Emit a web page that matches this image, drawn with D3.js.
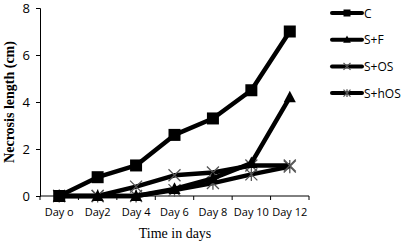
<!DOCTYPE html>
<html><head><meta charset="utf-8">
<script src="https://cdn.jsdelivr.net/npm/d3@7"></script>
<style>body{margin:0;background:#fff}svg{display:block}</style>
</head><body>
<svg id="c" width="401" height="245"></svg>
<script>
const categories = ["Day o","Day2","Day 4","Day 6","Day 8","Day 10","Day 12"];
const seriesNames = ["C","S+F","S+OS","S+hOS"];
const valuesC    = [0, 0.8, 1.3, 2.6, 3.3, 4.5, 7.0];
const valuesSF   = [0, 0, 0, 0.3, 0.75, 1.4, 4.2];
const valuesSOS  = [0, 0, 0.4, 0.88, 1.0, 1.3, 1.3];
const valuesShOS = [0, 0, 0, 0.25, 0.55, 0.92, 1.25];
const yTicks = [0, 2, 4, 6, 8];

(function(){
const svg = d3.select("#c");
const mLeft = 40, mRight = 309, mTop = 8, mBottom = 196;
const x = d3.scaleBand().domain(categories).range([mLeft, mRight]);
const y = d3.scaleLinear().domain([0, 8]).range([mBottom, mTop]);
const cx = d => x(d) + x.bandwidth() / 2;

const yAxis = svg.append("g").attr("transform", `translate(${mLeft},0)`)
  .call(d3.axisLeft(y).tickValues(yTicks).tickSize(4).tickPadding(6));
yAxis.select(".domain").attr("stroke", "#000");
yAxis.selectAll("text").attr("font-family", "Open Sans, Liberation Sans, sans-serif").attr("font-size", 13).attr("fill", "#000");

const xAxis = svg.append("g").attr("transform", `translate(0,${mBottom})`);
xAxis.append("line").attr("x1", mLeft).attr("x2", mRight).attr("stroke", "#000");
const bounds = categories.map(c => x(c)).concat([mRight]);
xAxis.selectAll("line.t").data(bounds).enter().append("line").attr("class", "t")
  .attr("x1", d => d).attr("x2", d => d).attr("y1", 0).attr("y2", 4).attr("stroke", "#000");
xAxis.selectAll("text").data(categories).enter().append("text")
  .attr("x", d => cx(d)).attr("y", 20).attr("text-anchor", "middle")
  .attr("font-family", "Open Sans, Liberation Sans, sans-serif").attr("font-size", 11).text(d => d);

svg.append("text").attr("x", 175).attr("y", 238).attr("text-anchor", "middle")
  .attr("font-family", "Liberation Serif, serif").attr("font-size", 14).text("Time in days");
svg.append("text").attr("transform", "translate(14,102) rotate(-90)").attr("text-anchor", "middle")
  .attr("font-family", "Liberation Serif, serif").attr("font-weight", "bold").attr("font-size", 14)
  .text("Necrosis length (cm)");

const series = [
  {name: seriesNames[0], values: valuesC, marker: "square"},
  {name: seriesNames[1], values: valuesSF, marker: "triangle"},
  {name: seriesNames[2], values: valuesSOS, marker: "x"},
  {name: seriesNames[3], values: valuesShOS, marker: "star"}
];

function drawMarker(g, type, px, py, s) {
  if (type === "square") {
    g.append("rect").attr("x", px - s/2).attr("y", py - s/2).attr("width", s).attr("height", s).attr("fill", "#000");
  } else if (type === "triangle") {
    g.append("path").attr("d", `M${px},${py - s*0.6}L${px + s*0.55},${py + s*0.45}L${px - s*0.55},${py + s*0.45}Z`).attr("fill", "#000");
  } else if (type === "x") {
    const r = s/2;
    g.append("path").attr("d", `M${px-r},${py-r}L${px+r},${py+r}M${px-r},${py+r}L${px+r},${py-r}`)
      .attr("stroke", "#555").attr("stroke-width", 1.3);
  } else {
    const r = s/2;
    g.append("path").attr("d", `M${px-r},${py-r}L${px+r},${py+r}M${px-r},${py+r}L${px+r},${py-r}M${px},${py-r*1.1}L${px},${py+r*1.1}`)
      .attr("stroke", "#555").attr("stroke-width", 1.3);
  }
}

const line = d3.line().x((d, i) => cx(categories[i])).y(d => y(d));
series.slice().reverse().forEach(s => {
  const g = svg.append("g");
  g.append("path").datum(s.values).attr("d", line).attr("fill", "none")
    .attr("stroke", "#000").attr("stroke-width", 4.5).attr("stroke-linejoin", "round");
  s.values.forEach((v, i) => {
    const size = s.marker === "square" ? 12 : (s.marker === "triangle" ? 11 : 12);
    drawMarker(g, s.marker, cx(categories[i]), y(v), size);
  });
});

const lg = svg.append("g");
series.forEach((s, i) => {
  const ly = 13 + i * 26.7;
  lg.append("line").attr("x1", 332).attr("x2", 362).attr("y1", ly).attr("y2", ly)
    .attr("stroke", "#000").attr("stroke-width", 4).attr("stroke-linecap", "round");
  drawMarker(lg, s.marker, 347, ly, 7);
  lg.append("text").attr("x", 364).attr("y", ly + 4.5)
    .attr("font-family", "Open Sans, Liberation Sans, sans-serif").attr("font-size", 12).text(s.name);
});
})();
</script>
</body></html>
